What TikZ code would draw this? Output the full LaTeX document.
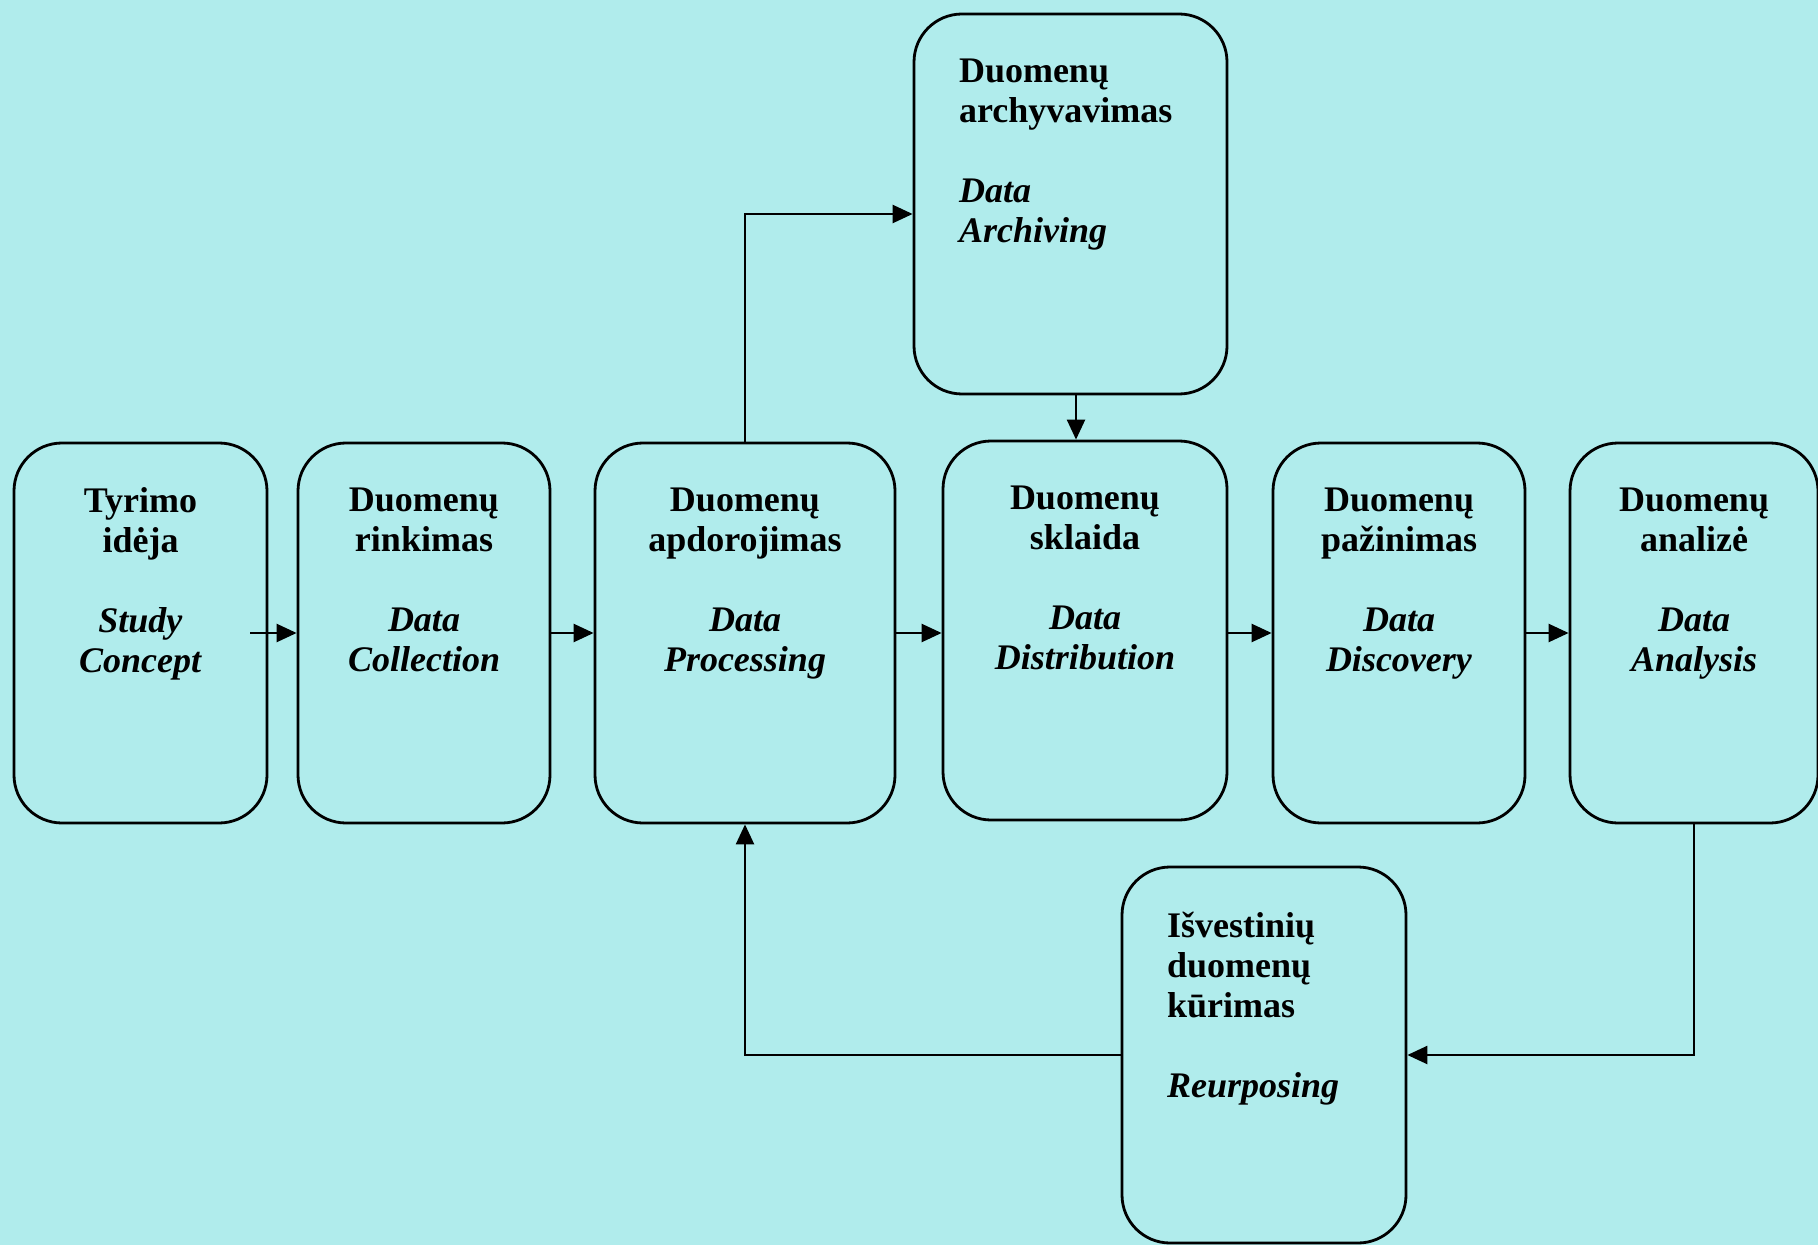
\documentclass[tikz,border=0pt]{standalone}
\usepackage{fontspec}
\setmainfont{Liberation Serif}
\usetikzlibrary{arrows.meta}
\definecolor{bg}{RGB}{176,236,236}
\begin{document}
\begin{tikzpicture}[x=0.5pt,y=-0.5pt,
  box/.style={draw, line width=1.4pt, rounded corners=24pt, inner sep=0pt},
  lbl/.style={font=\fontsize{18}{20}\selectfont\bfseries, align=center, inner sep=0pt, anchor=north},
  lbll/.style={font=\fontsize{18}{20}\selectfont\bfseries, align=left, inner sep=0pt, anchor=north west},
  arr/.style={line width=1.2pt, -{Triangle[length=10pt,width=9pt]}}]
\fill[bg] (0,0) rectangle (1818,1245);
\useasboundingbox (0,0) rectangle (1818,1245);

\node[box, minimum width=126.5pt, minimum height=190pt] (b1) at (140.5,633) {};
\node[box, minimum width=126pt, minimum height=190pt] (b2) at (424,633) {};
\node[box, minimum width=150pt, minimum height=190pt] (b3) at (745,633) {};
\node[box, minimum width=142pt, minimum height=189.5pt] (b4) at (1085,630.5) {};
\node[box, minimum width=126pt, minimum height=190pt] (b5) at (1399,633) {};
\node[box, minimum width=124pt, minimum height=190pt] (b6) at (1694,633) {};
\node[box, minimum width=156.5pt, minimum height=190pt] (b7) at (1070.5,204) {};
\node[box, minimum width=142pt, minimum height=188pt] (b8) at (1264,1055) {};

\node[lbl] (t1) at ([yshift=-23pt]b1.north) {Tyrimo\\idėja\\[20pt]\textit{Study}\\\textit{Concept}};
\node[lbl] (t2) at ([yshift=-23pt]b2.north) {Duomenų\\rinkimas\\[20pt]\textit{Data}\\\textit{Collection}};
\node[lbl] (t3) at ([yshift=-23pt]b3.north) {Duomenų\\apdorojimas\\[20pt]\textit{Data}\\\textit{Processing}};
\node[lbl] (t4) at ([yshift=-23pt]b4.north) {Duomenų\\sklaida\\[20pt]\textit{Data}\\\textit{Distribution}};
\node[lbl] (t5) at ([yshift=-23pt]b5.north) {Duomenų\\pažinimas\\[20pt]\textit{Data}\\\textit{Discovery}};
\node[lbl] (t6) at ([yshift=-23pt]b6.north) {Duomenų\\analizė\\[20pt]\textit{Data}\\\textit{Analysis}};
\node[lbll] (t7) at ([xshift=23pt,yshift=-23pt]b7.north west) {Duomenų\\archyvavimas\\[20pt]\textit{Data}\\\textit{Archiving}};
\node[lbll] (t8) at ([xshift=23pt,yshift=-23pt]b8.north west) {Išvestinių\\duomenų\\kūrimas\\[20pt]\textit{Reurposing}};

\coordinate (d1) at (1076,0);
\draw[arr] ([xshift=-9pt]b1.east) -- (b2.west);
\draw[arr] (b2.east) -- (b3.west);
\draw[arr] (b3.east) -- (b3.east -| b4.west);
\draw[arr] (b4.east |- b5.west) -- (b5.west);
\draw[arr] (b5.east) -- (b6.west);
\draw[arr] (b3.north) |- ([yshift=-5pt]b7.west);
\draw[arr] (b7.south -| d1) -- (b4.north -| d1);
\draw[arr] (b6.south) |- (b8.east);
\draw[arr] (b8.west) -| (b3.south);
\end{tikzpicture}
\end{document}
